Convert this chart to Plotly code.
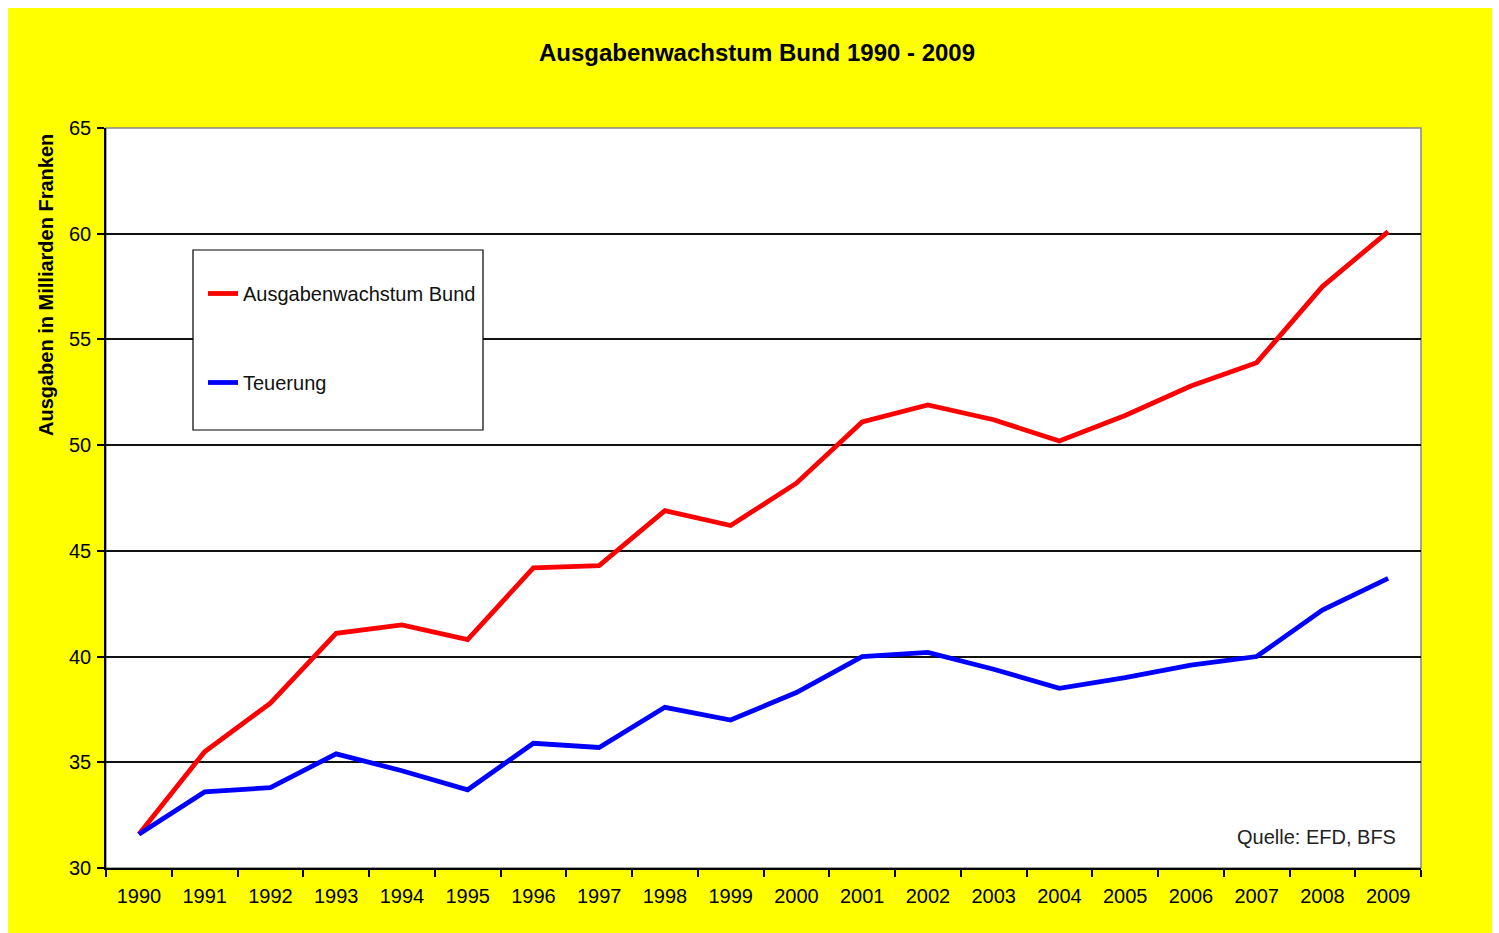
import plotly.graph_objects as go

years = [str(y) for y in range(1990, 2010)]
ausgaben = [31.6, 35.5, 37.8, 41.1, 41.5, 40.8, 44.2, 44.3, 46.9, 46.2,
            48.2, 51.1, 51.9, 51.2, 50.2, 51.4, 52.8, 53.9, 57.5, 60.1]
teuerung = [31.6, 33.6, 33.8, 35.4, 34.6, 33.7, 35.9, 35.7, 37.6, 37.0,
            38.3, 40.0, 40.2, 39.4, 38.5, 39.0, 39.6, 40.0, 42.2, 43.7]
series_names = ["Ausgabenwachstum Bund", "Teuerung"]
y_ticks = [30, 35, 40, 45, 50, 55, 60, 65]

W, H = 1499, 933
L, R, T, B = 106, 1421, 128, 868
pw, ph = R - L, B - T


def px(x):
    return (x - L) / pw


def py(y):
    return (B - y) / ph


FONT = "Arial, Liberation Sans, sans-serif"

fig = go.Figure()
fig.add_trace(go.Scatter(x=years, y=ausgaben, mode="lines", name=series_names[0],
                         line=dict(color="#FF0000", width=4.8), legendgroup="a"))
fig.add_trace(go.Scatter(x=years, y=teuerung, mode="lines", name=series_names[1],
                         line=dict(color="#0000FF", width=4.8), legendgroup="b"))

shapes = [
    dict(type="rect", xref="paper", yref="paper", x0=px(8), x1=px(1492), y0=py(940), y1=py(8),
         fillcolor="#FFFF00", line=dict(width=0), layer="below"),
    dict(type="rect", xref="paper", yref="paper", x0=0, x1=1, y0=0, y1=1,
         fillcolor="white", line=dict(color="#888888", width=1.5), layer="below"),
    dict(type="rect", xref="paper", yref="paper", x0=px(193), x1=px(483), y0=py(430), y1=py(250),
         fillcolor="white", line=dict(color="black", width=1.2), layer="above"),
]

fig.update_layout(
    width=W, height=H,
    margin=dict(l=L, r=W - R, t=T, b=H - B, pad=0),
    paper_bgcolor="white",
    plot_bgcolor="white",
    font=dict(family=FONT, size=20, color="black"),
    title=dict(text="<b>Ausgabenwachstum Bund 1990 - 2009</b>", x=757 / W, xref="container",
               xanchor="center", y=1 - 53 / H, yref="container", yanchor="middle",
               font=dict(family=FONT, size=24, color="black")),
    shapes=shapes,
    showlegend=True,
    legend=dict(x=px(203), y=py(274), xanchor="left", yanchor="top",
                bgcolor="rgba(0,0,0,0)", borderwidth=0,
                font=dict(family=FONT, size=20, color="#111111"),
                tracegroupgap=60, itemwidth=30),
    xaxis=dict(type="category", showgrid=False, showline=True, linecolor="black", linewidth=1.5,
               ticks="outside", tickson="boundaries", ticklen=7, tickcolor="black", tickwidth=1.5,
               ticklabelstandoff=9,
               tickfont=dict(family=FONT, size=20, color="black"), zeroline=False,
               range=[-0.5, 19.5], fixedrange=True),
    yaxis=dict(range=[30, 65], tickvals=y_ticks, showgrid=True, gridcolor="#111111", gridwidth=1.5,
               showline=True, linecolor="black", linewidth=1.5, ticks="outside", ticklen=7,
               tickcolor="black", tickwidth=1.5, zeroline=False, ticklabelstandoff=2,
               tickfont=dict(family=FONT, size=20, color="black"), fixedrange=True),
    annotations=[
        dict(text="<b>Ausgaben in Milliarden Franken</b>", textangle=-90, xref="paper", yref="paper",
             x=px(46), y=py(285), xanchor="center", yanchor="middle", showarrow=False,
             font=dict(family=FONT, size=20, color="black")),
        dict(text="Quelle: EFD, BFS", xref="paper", yref="paper", x=px(1398), y=py(837),
             xanchor="right", yanchor="middle", showarrow=False,
             font=dict(family=FONT, size=20, color="#222222")),
    ],
)

fig.write_html("out.html", config={"displayModeBar": False},
               post_script="document.body.style.margin='0';")
